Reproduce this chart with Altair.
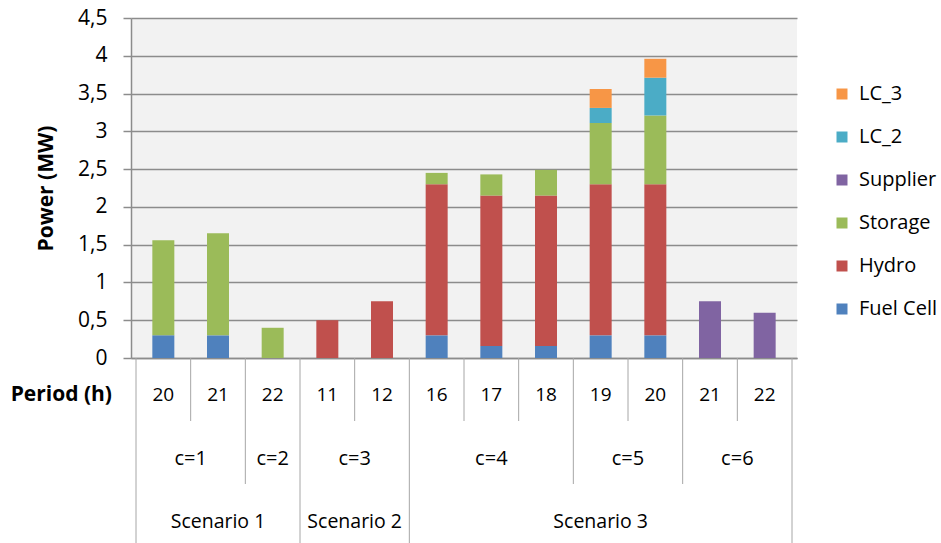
import altair as alt
import pandas as pd

# Category rows of the multi-level x axis
periods = ["20", "21", "22", "11", "12", "16", "17", "18", "19", "20", "21", "22"]
clusters = ["c=1", "c=1", "c=2", "c=3", "c=3", "c=4", "c=4", "c=4", "c=5", "c=5", "c=6", "c=6"]
scenarios = ["Scenario 1"] * 3 + ["Scenario 2"] * 2 + ["Scenario 3"] * 7

# Power per source (MW), one value per period column
fuel_cell = [0.30, 0.30, 0.00, 0.00, 0.00, 0.30, 0.16, 0.16, 0.30, 0.30, 0.00, 0.00]
hydro = [0.00, 0.00, 0.00, 0.50, 0.75, 2.00, 1.99, 1.99, 2.00, 2.00, 0.00, 0.00]
storage = [1.26, 1.35, 0.40, 0.00, 0.00, 0.15, 0.28, 0.34, 0.81, 0.91, 0.00, 0.00]
supplier = [0.00, 0.00, 0.00, 0.00, 0.00, 0.00, 0.00, 0.00, 0.00, 0.00, 0.75, 0.60]
lc_2 = [0.00, 0.00, 0.00, 0.00, 0.00, 0.00, 0.00, 0.00, 0.20, 0.50, 0.00, 0.00]
lc_3 = [0.00, 0.00, 0.00, 0.00, 0.00, 0.00, 0.00, 0.00, 0.25, 0.25, 0.00, 0.00]

series_names = ["Fuel Cell", "Hydro", "Storage", "Supplier", "LC_2", "LC_3"]
series_values = [fuel_cell, hydro, storage, supplier, lc_2, lc_3]
series_colors = ["#4f81bd", "#c0504d", "#9bbb59", "#8064a2", "#4bacc6", "#f79646"]

y_ticks = [0, 0.5, 1, 1.5, 2, 2.5, 3, 3.5, 4, 4.5]
y_title = "Power (MW)"
row_title = "Period (h)"

FONT = "Open Sans"
GRID = "#8c8c8c"
TABLE_LINE = "#a6a6a6"
n = len(periods)

# Long table for the stacked bars
bar_rows = []
for rank, (name, vals) in enumerate(zip(series_names, series_values)):
    for slot, v in enumerate(vals):
        if v > 0:
            bar_rows.append({"slot": slot, "series": name, "value": v, "rank": rank})
bar_df = pd.DataFrame(bar_rows)

# Period labels
period_df = pd.DataFrame({"slot": list(range(n)), "label": periods})


def runs(keys, labels):
    out = []
    start = 0
    for i in range(1, n + 1):
        if i == n or keys[i] != keys[start]:
            out.append({"start": start, "end": i, "label": labels[start]})
            start = i
    return out


cluster_df = pd.DataFrame(runs(list(zip(scenarios, clusters)), clusters))
scenario_df = pd.DataFrame(runs(scenarios, scenarios))

# Separator lines of the category table, classified by the level they close
sep_rows = []
for b in range(n + 1):
    if b in (0, n) or scenarios[b - 1] != scenarios[b]:
        level = "scenario"
    elif clusters[b - 1] != clusters[b]:
        level = "cluster"
    else:
        level = "period"
    sep_rows.append({"pos": b, "level": level})
sep_df = pd.DataFrame(sep_rows)

x_scale = alt.Scale(domain=[0, n], nice=False, zero=False)

bars = (
    alt.Chart(bar_df)
    .transform_calculate(center="datum.slot + 0.5")
    .mark_bar(size=22)
    .encode(
        x=alt.X(
            "center:Q",
            scale=x_scale,
            axis=alt.Axis(
                title=None, labels=False, ticks=False, grid=False,
                domain=True, domainColor=GRID, domainWidth=1.5,
            ),
        ),
        y=alt.Y(
            "value:Q",
            stack="zero",
            scale=alt.Scale(domain=[0, 4.5], nice=False),
            axis=alt.Axis(
                title=y_title,
                values=y_ticks,
                labelExpr="replace(toString(datum.value), '.', ',')",
                labelFont=FONT,
                labelFontSize=21,
                labelColor="#000000",
                labelPadding=16,
                tickSize=8,
                tickColor=GRID,
                tickWidth=1.5,
                domainColor=GRID,
                domainWidth=1.5,
                gridColor=GRID,
                gridWidth=1.5,
                titleFont=FONT,
                titleFontSize=21,
                titleFontWeight="bold",
                titleColor="#000000",
                titleAngle=270,
                titleAlign="center",
                titleBaseline="middle",
                titleX=-85,
                titleY=170,
            ),
        ),
        color=alt.Color(
            "series:N",
            scale=alt.Scale(domain=series_names[::-1], range=series_colors[::-1]),
            legend=alt.Legend(
                title=None,
                orient="none",
                legendX=701,
                legendY=66,
                symbolType="square",
                symbolSize=121,
                symbolStrokeWidth=0,
                labelFont=FONT,
                labelFontSize=20,
                labelColor="#000000",
                labelOffset=7,
                rowPadding=23,
                padding=0,
            ),
        ),
        order=alt.Order("rank:Q", sort="ascending"),
    )
)


def text_style(size):
    return dict(font=FONT, fontSize=size, color="#000000", align="center", baseline="middle")


period_text = (
    alt.Chart(period_df)
    .transform_calculate(center="datum.slot + 0.5")
    .mark_text(**text_style(19))
    .encode(x=alt.X("center:Q", scale=x_scale), y=alt.value(377), text="label:N")
)

cluster_text = (
    alt.Chart(cluster_df)
    .transform_calculate(center="(datum.start + datum.end) / 2")
    .mark_text(**text_style(20))
    .encode(x=alt.X("center:Q", scale=x_scale), y=alt.value(441), text="label:N")
)

scenario_text = (
    alt.Chart(scenario_df)
    .transform_calculate(center="(datum.start + datum.end) / 2")
    .mark_text(**text_style(19.5))
    .encode(x=alt.X("center:Q", scale=x_scale), y=alt.value(504), text="label:N")
)

row_label = (
    alt.Chart(pd.DataFrame({"label": [row_title]}))
    .mark_text(font=FONT, fontSize=21, fontWeight="bold", color="#000000",
               align="right", baseline="middle")
    .encode(x=alt.value(-19), y=alt.value(377), text="label:N")
)


def separators(level, y_end):
    return (
        alt.Chart(sep_df)
        .transform_filter(alt.datum.level == level)
        .mark_rule(color=TABLE_LINE, strokeWidth=1)
        .encode(x=alt.X("pos:Q", scale=x_scale), y=alt.value(340), y2=alt.value(y_end))
    )


chart = (
    alt.layer(
        separators("period", 403),
        separators("cluster", 466),
        separators("scenario", 525),
        bars,
        period_text,
        cluster_text,
        scenario_text,
        row_label,
    )
    .properties(
        width=666,
        height=340,
        padding={"left": 131, "top": 18, "right": 144, "bottom": 185},
        autosize=alt.AutoSizeParams(type="none"),
        background="#ffffff",
    )
    .configure_view(fill="#f2f2f2", stroke=None)
)

chart.save("out.html", embed_options={"renderer": "svg", "actions": False})
